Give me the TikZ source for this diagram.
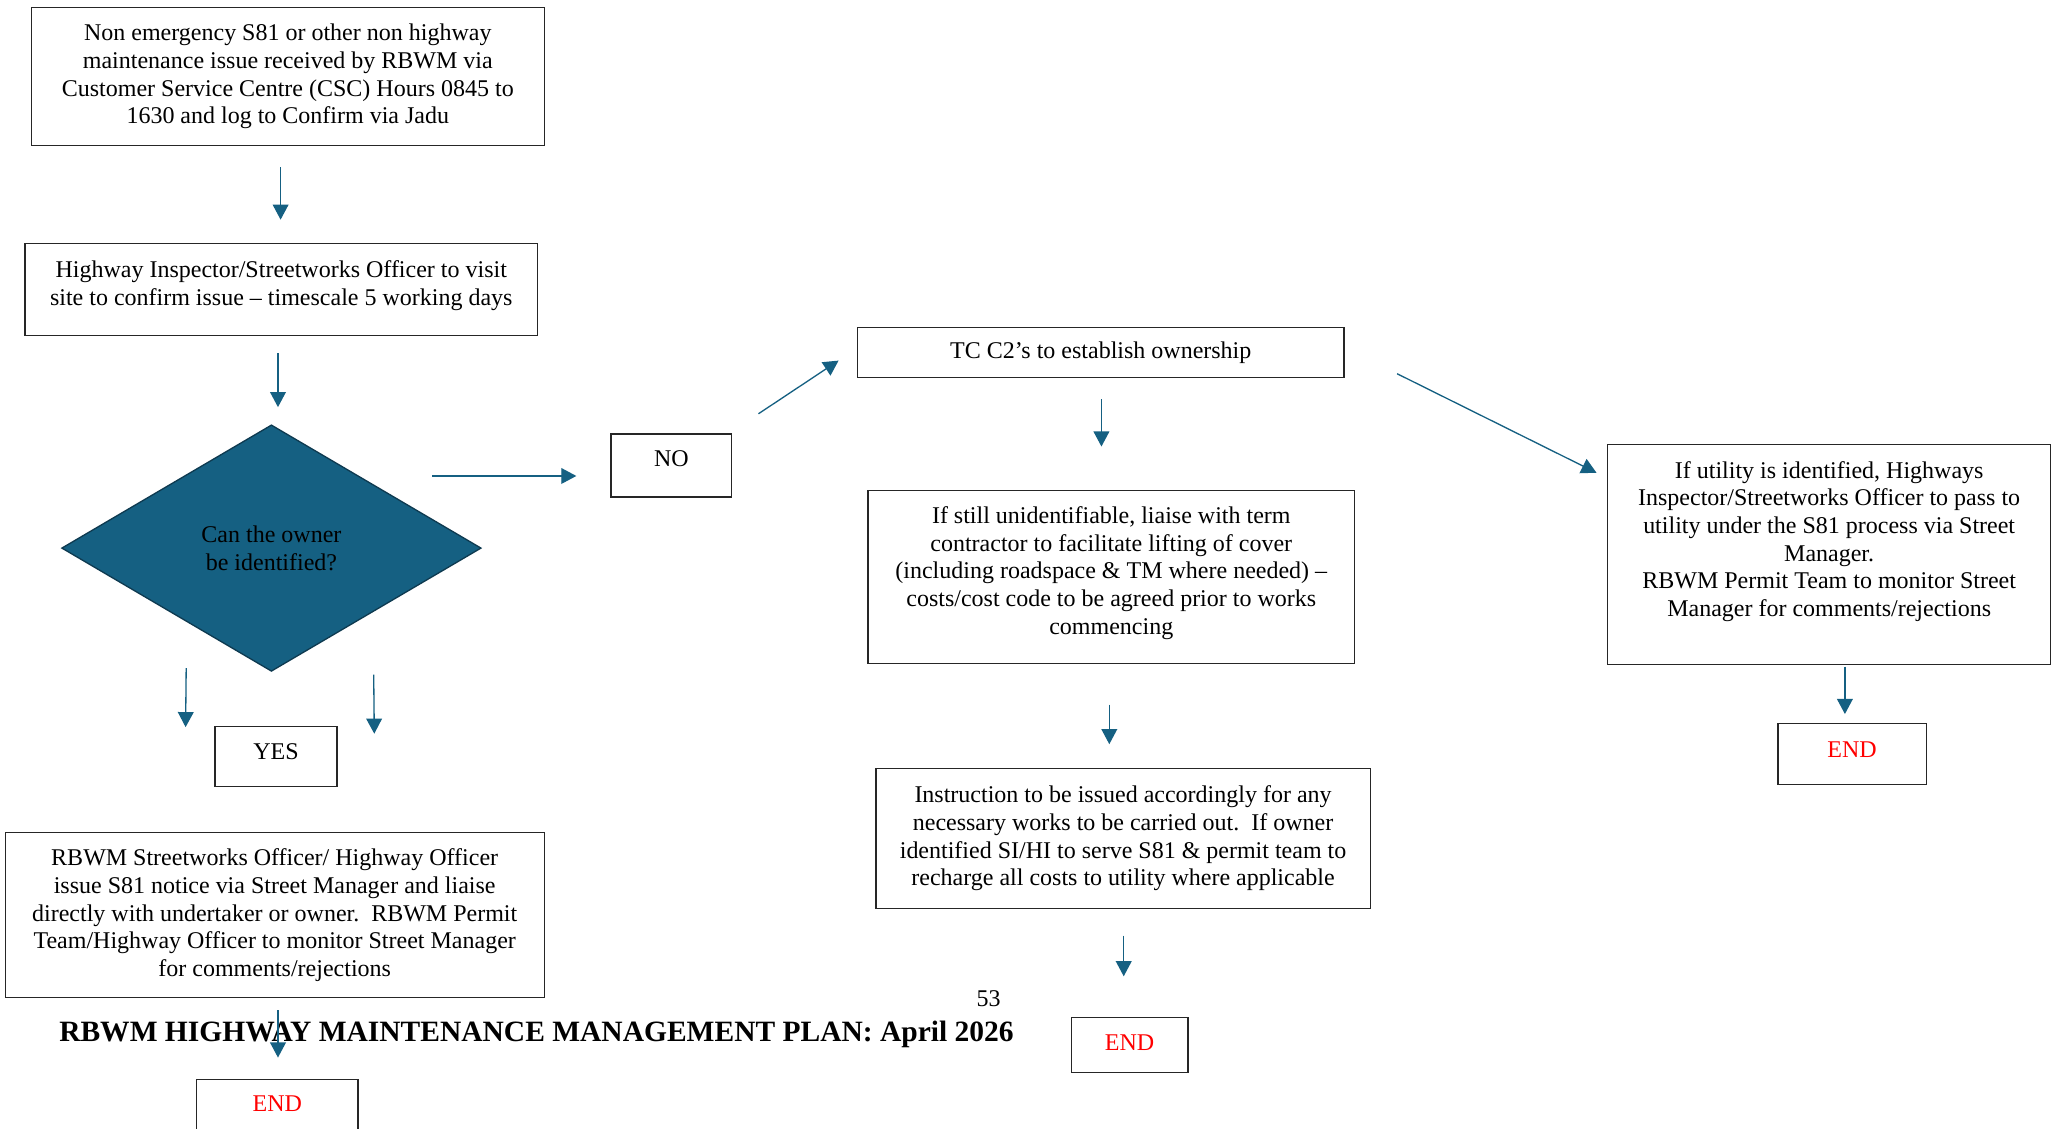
\documentclass[tikz,border=0pt]{standalone}
\usepackage{fontspec}
\setmainfont{Liberation Serif}
\usetikzlibrary{arrows.meta,shapes.geometric}
\definecolor{acc}{HTML}{156082}
\definecolor{accdark}{HTML}{0E3A50}
\newcommand{\dpt}[1]{\rule[-#1pt]{0pt}{#1pt}}
\begin{document}
\begin{tikzpicture}[x=1pt,y=-1pt,
  box/.style={draw=black!85, line width=0.9pt, align=center, inner sep=0pt, font=\fontsize{18.3}{21.1}\selectfont},
  endbox/.style={box, text=red},
  arr/.style={draw=acc, line width=1pt, -{Triangle[length=11.5pt,width=12pt]}}
]
\useasboundingbox (0,0) rectangle (1568,861);
\clip (0,0) rectangle (1568,861);
\fill[white] (0,0) rectangle (1568,861);

\node[box, minimum width=391pt, minimum height=105pt] (b1) at (219.5,58.5)
  {Non emergency S81 or other non highway\\ maintenance issue received by RBWM via\\ Customer Service Centre (CSC) Hours 0845 to\\ 1630 and log to Confirm via Jadu\dpt{4}};
\node[box, minimum width=391pt, minimum height=70pt] (b2) at (214.5,221)
  {Highway Inspector/Streetworks Officer to visit\\ site to confirm issue – timescale 5 working days\dpt{10}};
\node[diamond, draw=accdark, fill=acc, line width=1pt, minimum width=320pt, minimum height=188pt,
  inner sep=0pt, align=center, font=\fontsize{18.3}{21.1}\selectfont] (d) at (207,418)
  {Can the owner\\ be identified?};
\node[box, minimum width=92pt, minimum height=48pt] (no) at (512,355) {NO\dpt{10}};
\node[box, minimum width=371pt, minimum height=38pt] (tc) at (839.5,269) {TC C2’s to establish ownership};
\node[box, minimum width=371pt, minimum height=132pt] (un) at (847.5,440)
  {If still unidentifiable, liaise with term\\ contractor to facilitate lifting of cover\\ (including roadspace \& TM where needed) –\\ costs/cost code to be agreed prior to works\\ commencing\dpt{10}};
\node[box, minimum width=377pt, minimum height=107pt] (inst) at (856.5,639.5)
  {Instruction to be issued accordingly for any\\ necessary works to be carried out.\ \ If owner\\ identified SI/HI to serve S81 \& permit team to\\ recharge all costs to utility where applicable\dpt{4}};
\node[endbox, minimum width=89pt, minimum height=42pt] (e2) at (861.5,797) {END\dpt{4}};
\node[box, minimum width=338pt, minimum height=168pt] (rb) at (1395,423)
  {If utility is identified, Highways\\ Inspector/Streetworks Officer to pass to\\ utility under the S81 process via Street\\ Manager.\\ RBWM Permit Team to monitor Street\\ Manager for comments/rejections\dpt{24}};
\node[endbox, minimum width=113pt, minimum height=46pt] (e3) at (1412.5,575) {END\dpt{6}};
\node[box, minimum width=93pt, minimum height=46pt] (yes) at (210.5,577) {YES\dpt{8}};
\node[box, minimum width=411pt, minimum height=126pt] (rbwm) at (209.5,698)
  {RBWM Streetworks Officer/ Highway Officer\\ issue S81 notice via Street Manager and liaise\\ directly with undertaker or owner.\ \ RBWM Permit\\ Team/Highway Officer to monitor Street Manager\\ for comments/rejections\dpt{4}};
\node[endbox, minimum width=123pt, minimum height=46pt] (e1) at (211.5,846) {END\dpt{8}};

\node[anchor=west, inner sep=0pt, font=\fontsize{22.5}{26}\selectfont\bfseries] (ft) at (45,789)
  {RBWM HIGHWAY MAINTENANCE MANAGEMENT PLAN: April 2026};
\node[inner sep=0pt, font=\fontsize{18.3}{21.1}\selectfont] (pg) at (754,762) {53};

\draw[arr] ([shift={(-5.5pt,-16pt)}]b1.south) -- ([shift={(-0.5pt,18pt)}]b2.north);
\draw[arr] ([shift={(-2.5pt,-13pt)}]b2.south) -- ([shift={(5pt,13pt)}]d.north);
\draw[arr] ([shift={(-38pt,55pt)}]d.east) -- ([shift={(-26pt,-8pt)}]no.west);
\draw[arr] ([shift={(20pt,15pt)}]no.north east) -- ([shift={(-14pt,-6pt)}]tc.west);
\draw[arr] ([shift={(40pt,-16pt)}]tc.east) -- ([shift={(-8pt,-22pt)}]rb.north west);
\draw[arr] ([shift={(0.5pt,-16pt)}]tc.south) -- ([shift={(-7.5pt,33pt)}]un.north);
\draw[arr] ([shift={(-1.5pt,-31pt)}]un.south) -- ([shift={(-10.5pt,18pt)}]inst.north);
\draw[arr] ([shift={(0.5pt,-20pt)}]inst.south) -- ([shift={(-4.5pt,31pt)}]e2.north);
\draw[arr] ([shift={(12pt,-1pt)}]rb.south) -- ([shift={(-5.5pt,7pt)}]e3.north);
\draw[arr] ([shift={(-65pt,3pt)}]d.south) -- ([shift={(-22pt,-1pt)}]yes.north west);
\draw[arr] ([shift={(78pt,-2pt)}]d.south) -- ([shift={(28pt,-6pt)}]yes.north east);
\draw[arr] ([shift={(2.5pt,-9pt)}]rbwm.south) -- ([shift={(0.5pt,16pt)}]e1.north);
\end{tikzpicture}
\end{document}
